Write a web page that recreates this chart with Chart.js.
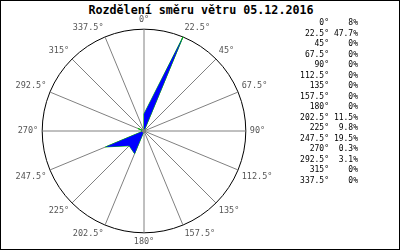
<!DOCTYPE html>
<html>
<head>
<meta charset="utf-8">
<script src="https://cdn.jsdelivr.net/npm/chart.js@4"></script>
<style>
  html, body { margin: 0; padding: 0; background: #fff; }
  .frame {
    position: relative; width: 400px; height: 250px;
    box-sizing: border-box; border: 1px solid #000; overflow: hidden;
  }
  .title {
    position: absolute; left: 0; top: 2px; width: 400px; text-align: center;
    font: bold 11.7px "DejaVu Sans Mono", monospace; color: #000;
  }
  .chart-box { position: absolute; left: 0; top: 12px; width: 290px; height: 236px; }
  .legend { position: absolute; left: 288px; top: 17px; font: 8px "DejaVu Sans Mono", monospace; color: #000; }
  .legend .row { height: 10.5px; line-height: 10.5px; white-space: nowrap; }
  .legend span { display: inline-block; text-align: right; }
  .legend .dir { width: 40px; }
  .legend .val { width: 29px; }
</style>
</head>
<body>
<div class="frame">
  <div class="title">Rozdělení směru větru 05.12.2016</div>
  <div class="chart-box"><canvas id="windChart"></canvas></div>
  <div class="legend" id="legend"></div>
</div>
<script>
// wind directions and share of time (%)
const directions = ['0°', '22.5°', '45°', '67.5°', '90°', '112.5°', '135°', '157.5°',
                    '180°', '202.5°', '225°', '247.5°', '270°', '292.5°', '315°', '337.5°'];
const shares = [8, 47.7, 0, 0, 0, 0, 0, 0, 0, 11.5, 9.8, 19.5, 0.3, 3.1, 0, 0];

// Legend table on the right
const legend = document.getElementById('legend');
directions.forEach(function(dir, i) {
    const row = document.createElement('div');
    row.className = 'row';
    row.innerHTML = '<span class="dir">' + dir + '</span><span class="val">' + shares[i] + '%</span>';
    legend.appendChild(row);
});

const maxShare = Math.max.apply(null, shares);

const ctx = document.getElementById('windChart').getContext('2d');
const windChart = new Chart(ctx, {
    type: 'radar',
    data: {
        labels: directions,
        datasets: [{
            // blue filled rose
            data: shares,
            backgroundColor: '#0000ff',
            borderWidth: 0,
            fill: true,
            pointRadius: function(c) { return c.raw === 0 ? 1.5 : 0; },
            pointBackgroundColor: '#808080',
            pointBorderWidth: 0,
            order: 1
        }, {
            // green outline under the fill
            data: shares,
            borderColor: '#00c000',
            borderWidth: 1,
            fill: false,
            pointRadius: 0,
            order: 2
        }]
    },
    options: {
        responsive: true,
        maintainAspectRatio: false,
        animation: false,
        layout: { padding: { top: 2, bottom: 2, left: 0, right: 4 } },
        plugins: {
            legend: { display: false },
            tooltip: { enabled: false }
        },
        elements: { line: { tension: 0 } },
        scales: {
            r: {
                min: 0,
                max: maxShare,
                ticks: { display: false, count: 2 },
                grid: { circular: true, color: '#000', lineWidth: 1 },
                angleLines: { color: '#808080', lineWidth: 1 },
                pointLabels: {
                    color: '#555',
                    padding: 4,
                    font: { family: 'DejaVu Sans Mono', size: 8.5 }
                }
            }
        }
    }
});
</script>
</body>
</html>
